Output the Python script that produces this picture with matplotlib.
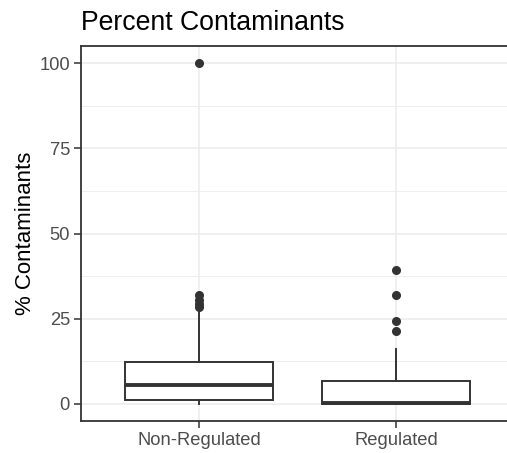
import matplotlib
matplotlib.use("Agg")
import matplotlib.pyplot as plt

categories = ["Non-Regulated", "Regulated"]
whislo = [0.0, 0.0]
q1 = [1.2, 0.0]
med = [5.6, 0.3]
q3 = [12.2, 6.7]
whishi = [27.0, 16.0]
outliers = [[28.5, 29.2, 30.5, 32.0, 100.0], [21.5, 24.2, 32.1, 39.2]]
yticks = [0, 25, 50, 75, 100]

plt.rcParams['font.family'] = ['Liberation Sans', 'DejaVu Sans']

fig = plt.figure(figsize=(5.07, 4.53), dpi=100)
ax = fig.add_axes([81/507, (453-421)/453, 433/507, (421-46)/453])

stats = []
for i, c in enumerate(categories):
    stats.append(dict(label=c, whislo=whislo[i], q1=q1[i], med=med[i], q3=q3[i],
                      whishi=whishi[i], fliers=outliers[i]))

dark = '#333333'
ax.bxp(stats, positions=[1, 2], widths=0.75, showcaps=False, patch_artist=True,
       boxprops=dict(facecolor='white', edgecolor=dark, linewidth=1.4),
       whiskerprops=dict(color=dark, linewidth=1.4),
       medianprops=dict(color=dark, linewidth=2.8, solid_capstyle='butt'),
       flierprops=dict(marker='o', markerfacecolor=dark, markeredgecolor=dark, markersize=5.5),
       zorder=3)

ax.set_xlim(0.4, 2.6)
ax.set_ylim(-5, 105)
ax.set_yticks(yticks)
ax.set_yticks([12.5, 37.5, 62.5, 87.5], minor=True)
ax.set_xticks([1, 2])
ax.set_xticklabels(categories)
ax.grid(True, which='major', color='#EBEBEB', linewidth=1.1, zorder=0)
ax.grid(True, which='minor', axis='y', color='#EBEBEB', linewidth=0.6, zorder=0)
ax.set_axisbelow(True)
ax.tick_params(axis='both', which='major', labelsize=13.2, colors='#333333',
               labelcolor='#4D4D4D', length=5, width=1.1, pad=3)
ax.tick_params(axis='both', which='minor', length=0)
for s in ax.spines.values():
    s.set_color('#333333')
    s.set_linewidth(1.3)
ax.spines['right'].set_visible(False)

ax.set_ylabel('% Contaminants', fontsize=16, color='black', labelpad=2)
fig.text(81/507, 1 - 30/453, 'Percent Contaminants', fontsize=19.2, color='black',
         ha='left', va='baseline')

fig.savefig('out.png', dpi=100)
